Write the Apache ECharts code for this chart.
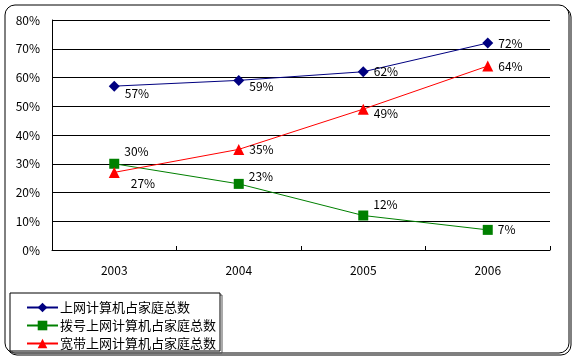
<!DOCTYPE html>
<html><head><meta charset="utf-8">
<script src="https://cdn.jsdelivr.net/npm/echarts@6/dist/echarts.min.js"></script>
<style>html,body{margin:0;padding:0;background:#fff}#c{width:576px;height:360px}</style>
</head><body><div id="c"></div>
<script>
var categories = ['2003', '2004', '2005', '2006'];
var seriesNames = ['上网计算机占家庭总数', '拨号上网计算机占家庭总数', '宽带上网计算机占家庭总数'];
var onlineShare = [57, 59, 62, 72];
var dialupShare = [30, 23, 12, 7];
var broadbandShare = [27, 35, 49, 64];
var yTicks = [0, 10, 20, 30, 40, 50, 60, 70, 80];

var font = '"Noto Sans CJK SC", "DejaVu Sans", sans-serif';
var chart = echarts.init(document.getElementById('c'));

function mkSeries(name, data, color, symbol, size, offsets) {
  return {
    name: name, type: 'line', data: data.map(function (v, i) {
      return { value: v, label: { offset: offsets[i] } };
    }),
    symbol: symbol, symbolSize: size,
    lineStyle: { color: color, width: 1 },
    itemStyle: { color: color },
    label: { show: true, position: 'right', distance: 5, formatter: '{c}%', color: '#000', fontSize: 12, fontFamily: font },
    animation: false
  };
}

chart.setOption({
  animation: false,
  grid: { left: 52, right: 26, top: 20, bottom: 110, containLabel: false },
  xAxis: {
    type: 'category', data: categories, boundaryGap: true,
    axisLine: { lineStyle: { color: '#000', width: 1 } },
    axisTick: { show: true, inside: true, length: 4, lineStyle: { color: '#000' } },
    axisLabel: { color: '#000', fontSize: 12, fontFamily: font, margin: 14 }
  },
  yAxis: {
    type: 'value', min: yTicks[0], max: yTicks[yTicks.length - 1], interval: 10,
    axisLine: { show: true, lineStyle: { color: '#000' } },
    axisTick: { show: false },
    splitLine: { lineStyle: { color: '#000', width: 1 } },
    axisLabel: { color: '#000', fontSize: 12, fontFamily: font, margin: 12, formatter: '{value}%' }
  },
  legend: {
    orient: 'vertical', left: 21, top: 296, itemGap: 5, itemWidth: 31, itemHeight: 12,
    textStyle: { color: '#000', fontSize: 13, fontFamily: font, padding: [0, 0, 0, -3] },
    data: seriesNames
  },
  graphic: [
    { type: 'rect', shape: { x: 7, y: 7, width: 564, height: 348, r: 10 }, style: { fill: 'none', stroke: '#000', lineWidth: 1 }, z: -2 },
    { type: 'rect', shape: { x: 5, y: 5, width: 564, height: 348, r: 10 }, style: { fill: '#fff', stroke: '#000', lineWidth: 1 }, z: -1 },
    { type: 'rect', shape: { x: 12, y: 295, width: 210, height: 58 }, style: { fill: 'none', stroke: '#555', lineWidth: 1 }, z: 0 },
    { type: 'rect', shape: { x: 10, y: 293, width: 210, height: 58 }, style: { fill: '#fff', stroke: '#000', lineWidth: 1 }, z: 0 }
  ],
  series: [
    mkSeries(seriesNames[0], onlineShare, '#000080', 'diamond', 11, [[0, 7], [0, 6], [0, 0], [0, 0]]),
    mkSeries(seriesNames[1], dialupShare, '#008000', 'rect', 10, [[0, -12], [0, -7], [0, -11], [0, 0]]),
    mkSeries(seriesNames[2], broadbandShare, '#ff0000', 'triangle', 11, [[6, 11], [0, 0], [0, 4], [0, 0]])
  ]
});
</script></body></html>
